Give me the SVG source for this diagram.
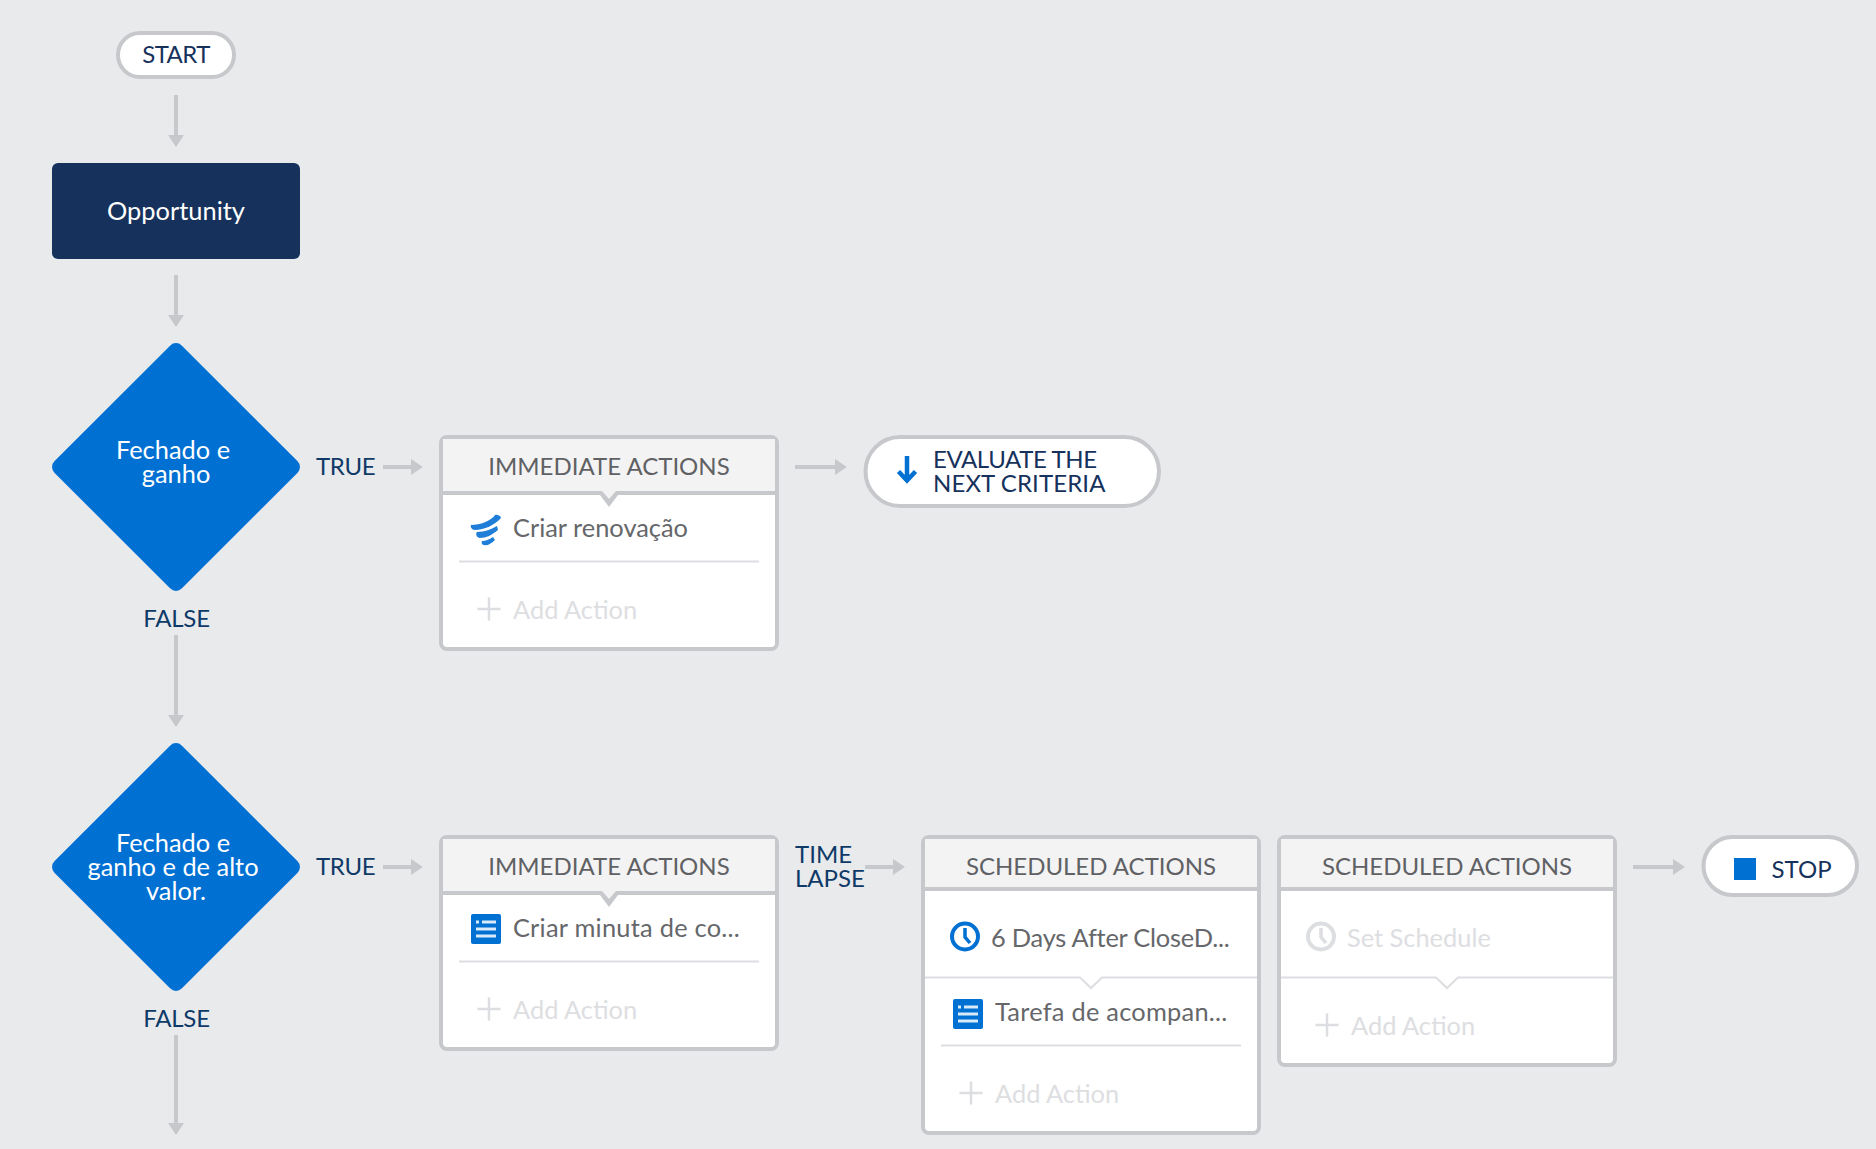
<svg xmlns="http://www.w3.org/2000/svg" width="1876" height="1149" viewBox="0 0 1876 1149">
<style>
text{font-family:"Lato","Open Sans","Liberation Sans",sans-serif;font-size:24px}
.m{font-size:25.4px}
.c{text-anchor:middle}
.navy{fill:#16325c}
.lab{fill:#0f3a68}
.w{fill:#fff}
.hd{fill:#5f6164}
.it{fill:#65676a}
.off{fill:#dddee1}
.card{fill:#fff;stroke:#c7c8cc;stroke-width:4}
.pill{fill:#fff;stroke:#c7c8cc;stroke-width:4}
.head{fill:#f3f3f3}
.hl{stroke:#c7c8cc;stroke-width:4;fill:none}
.dv{stroke:#dddee1;stroke-width:2;fill:none}
.plus{stroke:#dddee1;stroke-width:2.500;fill:none}
.ln{stroke:#c7c8cc;stroke-width:4;fill:none}
.ah{fill:#c7c8cc}
.blue{fill:#0070d2}
</style>
<defs>
<g id="ad"><path d="M0 0L-8 -12H8Z"/></g>
<g id="ar"><path d="M0 0L-12 -8V8Z"/></g>
<g id="task">
<rect x="0" y="0" width="30" height="30" rx="2" fill="#0070d2"/>
<path d="M5 8h3M11 8h14M5 15h20M5 22h20" stroke="#fff" stroke-width="3" fill="none" opacity=".85"/>
</g>
</defs>
<rect width="1876" height="1149" fill="#e9eaec"/>

<g id="connectors">
<path class="ln" d="M176 95V136M176 275V316M176 635V716M176 1035V1124M383 467H411M383 867H411M795 467H836M865 867H894M1633 867H1673"/>
<g class="ah">
<use href="#ad" x="176" y="147"/><use href="#ad" x="176" y="327"/><use href="#ad" x="176" y="727"/><use href="#ad" x="176" y="1135"/>
<use href="#ar" x="423" y="467"/><use href="#ar" x="423" y="867"/><use href="#ar" x="847" y="467"/><use href="#ar" x="905" y="867"/><use href="#ar" x="1685" y="867"/>
</g>
</g>

<g id="start">
<rect class="pill" x="118" y="33" width="116" height="44" rx="22"/>
<text class="c navy" x="176" y="63" letter-spacing="-0.600">START</text>
</g>

<g id="opportunity">
<rect x="52" y="163" width="248" height="96" rx="6" fill="#16325c"/>
<text class="c w m" x="176" y="219.700">Opportunity</text>
</g>

<g id="decision-1">
<rect class="blue" x="86" y="377" width="180" height="180" rx="8" transform="rotate(45 176 467)"/>
<text class="c w m" x="173" y="458.700">Fechado e</text>
<text class="c w m" x="176" y="482.700">ganho</text>
<text class="lab" x="316" y="475" letter-spacing="-0.300">TRUE</text>
<text class="c lab" x="176.500" y="627" letter-spacing="-0.200">FALSE</text>
</g>

<g id="immediate-1">
<rect class="card" x="441" y="437" width="336" height="212" rx="6"/>
<path class="head" d="M443 439H775V491H443Z"/>
<path class="hl" d="M443 493H775"/>
<path class="ah" d="M597 491H621L609 507Z"/>
<path class="head" d="M602 491H616L609 499Z"/>
<text class="c hd" x="609" y="475">IMMEDIATE ACTIONS</text>
<g fill="#1f7fd8">
<path d="M471 525C480 525 491 521 495 515C499 514 501 517 501 518C495 525 484 530 475 530C472 530 470 527 471 525Z"/>
<path d="M477 532C484 532 492 529 497 526L498 530C492 535 486 538 480 538C477 538 475 534 477 532Z"/>
<path d="M482 541C486 541 490 539 493 537L495 540C491 544 487 546 484 545C482 545 481 543 482 541Z"/>
</g>
<text class="it m" x="513" y="536.700">Criar renovação</text>
<path class="dv" d="M459 561.500H759"/>
<path class="plus" d="M489 597.500V620.500M477.500 609H500.500"/>
<text class="off m" x="513" y="618.700">Add Action</text>
</g>

<g id="evaluate">
<rect class="pill" x="865.500" y="437" width="293.500" height="69" rx="34.500"/>
<path d="M907 456V480M898.500 471.500L907 480.500L915.500 471.500" fill="none" stroke="#0070d2" stroke-width="4.500"/>
<text class="navy" x="933" y="468" letter-spacing="-0.400">EVALUATE THE</text>
<text class="navy" x="933" y="492" letter-spacing="0.100">NEXT CRITERIA</text>
</g>

<g id="decision-2">
<rect class="blue" x="86" y="777" width="180" height="180" rx="8" transform="rotate(45 176 867)"/>
<text class="c w m" x="173" y="851.700">Fechado e</text>
<text class="c w m" x="173" y="875.700">ganho e de alto</text>
<text class="c w m" x="176" y="899.700">valor.</text>
<text class="lab" x="316" y="875" letter-spacing="-0.300">TRUE</text>
<text class="c lab" x="176.500" y="1027" letter-spacing="-0.200">FALSE</text>
</g>

<g id="immediate-2">
<rect class="card" x="441" y="837" width="336" height="212" rx="6"/>
<path class="head" d="M443 839H775V891H443Z"/>
<path class="hl" d="M443 893H775"/>
<path class="ah" d="M597 891H621L609 907Z"/>
<path class="head" d="M602 891H616L609 899Z"/>
<text class="c hd" x="609" y="875">IMMEDIATE ACTIONS</text>
<use href="#task" x="471" y="914"/>
<text class="it m" x="513" y="936.700" letter-spacing="0.240">Criar minuta de co...</text>
<path class="dv" d="M459 961.500H759"/>
<path class="plus" d="M489 997.500V1020.500M477.500 1009H500.500"/>
<text class="off m" x="513" y="1018.700">Add Action</text>
</g>

<g id="time-lapse">
<text class="lab" x="795" y="863">TIME</text>
<text class="lab" x="795" y="887">LAPSE</text>
</g>

<g id="scheduled-1">
<rect class="card" x="923" y="837" width="336" height="296" rx="6"/>
<path class="head" d="M925 839H1257V887H925Z"/>
<path class="hl" d="M925 889H1257"/>
<text class="c hd" x="1091" y="875">SCHEDULED ACTIONS</text>
<circle cx="965" cy="936.500" r="13" fill="none" stroke="#0070d2" stroke-width="4"/>
<path d="M965 928V937L970 943" fill="none" stroke="#0070d2" stroke-width="3.500"/>
<text class="it m" x="991" y="946.700" letter-spacing="-0.220">6 Days After CloseD...</text>
<path class="dv" d="M925 977.500H1080L1091 988L1102 977.500H1257"/>
<use href="#task" x="953" y="999"/>
<text class="it m" x="995" y="1020.700" letter-spacing="0.250">Tarefa de acompan...</text>
<path class="dv" d="M941 1045.500H1241"/>
<path class="plus" d="M971 1081.500V1104.500M959.500 1093H982.500"/>
<text class="off m" x="995" y="1102.700">Add Action</text>
</g>

<g id="scheduled-2">
<rect class="card" x="1279" y="837" width="336" height="228" rx="6"/>
<path class="head" d="M1281 839H1613V887H1281Z"/>
<path class="hl" d="M1281 889H1613"/>
<text class="c hd" x="1447" y="875">SCHEDULED ACTIONS</text>
<circle cx="1321" cy="936.500" r="13" fill="none" stroke="#dddee1" stroke-width="4"/>
<path d="M1321 928V937L1326 943" fill="none" stroke="#dddee1" stroke-width="3.500"/>
<text class="off m" x="1347" y="946.700">Set Schedule</text>
<path class="dv" d="M1281 977.500H1436L1447 988L1458 977.500H1613"/>
<path class="plus" d="M1327 1013.500V1036.500M1315.500 1025H1338.500"/>
<text class="off m" x="1351" y="1034.700">Add Action</text>
</g>

<g id="stop">
<rect class="pill" x="1703.500" y="837" width="153.500" height="58" rx="29"/>
<rect class="blue" x="1734" y="858" width="22" height="22"/>
<text class="navy" x="1771.500" y="878">STOP</text>
</g>
</svg>
